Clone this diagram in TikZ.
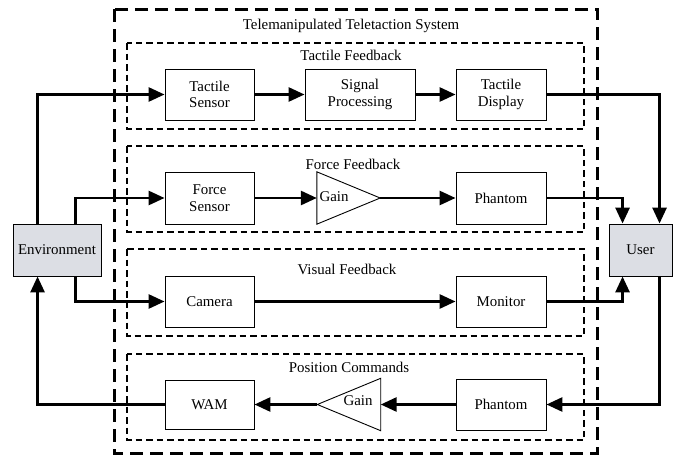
\documentclass[tikz,border=0pt]{standalone}
\usepackage{fontspec}
\setmainfont{Liberation Serif}
\usetikzlibrary{arrows.meta}
\definecolor{termfill}{RGB}{220,222,228}
\tikzset{
  blk/.style={draw, line width=0.9pt, minimum width=89pt, minimum height=51pt, align=center, inner sep=1pt},
  term/.style={blk, fill=termfill},
  grp/.style={draw, line width=1.1pt, dash pattern=on 6.5pt off 4pt},
  outer/.style={draw, line width=3pt, dash pattern=on 13pt off 7pt},
  gainbox/.style={minimum width=63pt, minimum height=52pt, inner sep=0pt},
  tri/.style={draw, line width=0.9pt},
  arr/.style={line width=2.8pt, -{Triangle[length=16pt,width=14pt]}},
  lbl/.style={anchor=base, inner sep=0pt},
}
\begin{document}
\begin{tikzpicture}[x=1pt,y=-1pt,font=\fontsize{14.9}{16.7}\selectfont]
\useasboundingbox (0,0) rectangle (681,455);

% system frame and feedback groups
\draw[outer] (114,9) rectangle (597,453);
\node[lbl] (title) at (351,29) {Telemanipulated Teletaction System};
\draw[grp] (127,43) rectangle (584,129);
\node[lbl] (gt) at (351,60) {Tactile Feedback};
\draw[grp] (127,146) rectangle (584,232);
\node[lbl] (gf) at (353,169.5) {Force Feedback};
\draw[grp] (127,249) rectangle (584,336);
\node[lbl] (gv) at (347,274) {Visual Feedback};
\draw[grp] (127,354) rectangle (584,440);
\node[lbl] (gp) at (349,372.5) {Position Commands};

% end points
\node[term, minimum width=88pt, minimum height=52pt] (env) at (57,250) {Environment};
\node[term, minimum width=63pt, minimum height=52pt] (user) at (640.5,250) {User};

% tactile path
\node[blk] (ts) at (209.5,94.5) {Tactile\\Sensor};
\node[blk, minimum width=110pt] (sp) at (360,94.5) {Signal\\Processing};
\node[blk, minimum width=90pt] (td) at (501,94.5) {Tactile\\Display};

% force path
\node[blk, minimum height=52pt] (fs) at (209.5,198) {Force\\Sensor};
\node[gainbox] (g1) at (348.5,198) {};
\draw[tri] (g1.north west) -- (g1.east) -- (g1.south west) -- cycle;
\node (g1t) at (334,197) {Gain};
\node[blk, minimum width=90pt, minimum height=52pt] (ph1) at (501,198) {Phantom};

% visual path
\node[blk] (cam) at (209.5,301.5) {Camera};
\node[blk, minimum width=90pt] (mon) at (501,301.5) {Monitor};

% position path
\node[blk, minimum height=49pt] (wam) at (209.5,404.5) {WAM};
\node[gainbox] (g2) at (349,404.5) {};
\draw[tri] (g2.north east) -- (g2.west) -- (g2.south east) -- cycle;
\node (g2t) at (358,401) {Gain};
\node[blk, minimum width=90pt] (ph2) at (501,404.5) {Phantom};

% signal flow
\draw[arr] ([xshift=25pt]env.north west) |- (ts.west);
\draw[arr] (ts) -- (sp);
\draw[arr] (sp) -- (td);
\draw[arr] (td.east) -| ([xshift=51pt]user.north west);

\draw[arr] ([xshift=63pt]env.north west) |- (fs.west);
\draw[arr] (fs.east) -- (g1.west);
\draw[arr] (g1.east) -- (ph1.west);
\draw[arr] (ph1.east) -| ([xshift=14pt]user.north west);

\draw[arr] ([xshift=63pt]env.south west) |- (cam.west);
\draw[arr] (cam) -- (mon);
\draw[arr] (mon.east) -| ([xshift=14pt]user.south west);

\draw[arr] ([xshift=51pt]user.south west) |- (ph2.east);
\draw[arr] (ph2.west) -- (g2.east);
\draw[arr] (g2.west) -- (wam.east);
\draw[arr] (wam.west) -| ([xshift=25pt]env.south west);
\end{tikzpicture}
\end{document}
